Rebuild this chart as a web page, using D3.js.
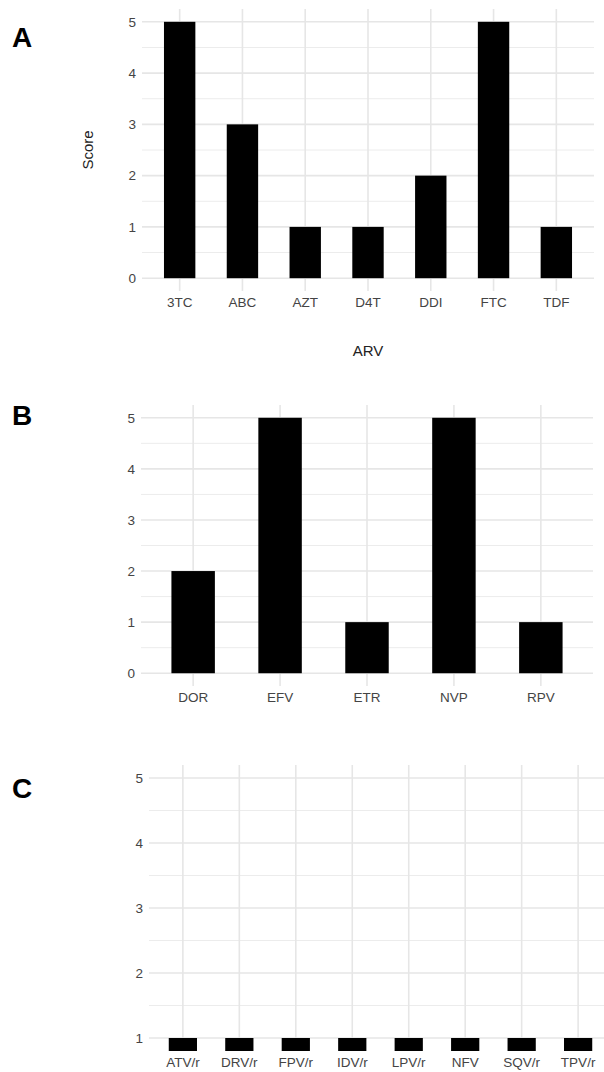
<!DOCTYPE html>
<html>
<head>
<meta charset="utf-8">
<script src="https://cdn.jsdelivr.net/npm/d3@7"></script>
<style>
  body { margin: 0; background: #fff; }
  svg { display: block; font-family: "Liberation Sans", Arial, sans-serif; }
</style>
</head>
<body>
<div id="chart"></div>
<script>
// scores per drug class
const nrtiDrugs = ["3TC", "ABC", "AZT", "D4T", "DDI", "FTC", "TDF"];
const nrtiScores = [5, 3, 1, 1, 2, 5, 1];

const nnrtiDrugs = ["DOR", "EFV", "ETR", "NVP", "RPV"];
const nnrtiScores = [2, 5, 1, 5, 1];

const piDrugs = ["ATV/r", "DRV/r", "FPV/r", "IDV/r", "LPV/r", "NFV", "SQV/r", "TPV/r"];
const piScores = [1, 1, 1, 1, 1, 1, 1, 1];

const ticksAB = [0, 1, 2, 3, 4, 5];
const ticksC = [1, 2, 3, 4, 5];

const width = 604, height = 1072;

const svg = d3.select("#chart")
  .append("svg")
  .attr("width", width)
  .attr("height", height);

function panel(opts) {
  let { id, drugs, scores, ticks, domain, left, right, top, bottom, label, labelY } = opts;
  let data = drugs.map((d, i) => ({ drug: d, score: scores[i] }));

  let x = d3.scaleBand()
    .domain(drugs)
    .range([left, right])
    .paddingInner(0.5)
    .paddingOuter(0.35);

  let y = d3.scaleLinear()
    .domain(domain)
    .range([bottom, top]);

  let minor = d3.range(ticks[0] + 0.5, ticks[ticks.length - 1], 1);

  let g = svg.append("g");

  g.append("clipPath").attr("id", "clip" + id)
    .append("rect")
    .attr("x", left).attr("y", top)
    .attr("width", right - left).attr("height", bottom - top);

  // grid
  g.append("g").selectAll("line.minor")
    .data(minor)
    .join("line")
    .attr("x1", left).attr("x2", right)
    .attr("y1", d => y(d)).attr("y2", d => y(d))
    .attr("stroke", "#ececec")
    .attr("stroke-width", 1);

  g.append("g").selectAll("line.major")
    .data(ticks)
    .join("line")
    .attr("x1", left).attr("x2", right)
    .attr("y1", d => y(d)).attr("y2", d => y(d))
    .attr("stroke", "#e6e6e6")
    .attr("stroke-width", 1.6);

  g.append("g").selectAll("line.vert")
    .data(drugs)
    .join("line")
    .attr("x1", d => x(d) + x.bandwidth() / 2)
    .attr("x2", d => x(d) + x.bandwidth() / 2)
    .attr("y1", top).attr("y2", bottom)
    .attr("stroke", "#e6e6e6")
    .attr("stroke-width", 1.6);

  // bars
  g.append("g")
    .attr("clip-path", `url(#clip${id})`)
    .selectAll("rect")
    .data(data)
    .join("rect")
    .attr("x", d => x(d.drug))
    .attr("width", x.bandwidth())
    .attr("y", d => y(d.score))
    .attr("height", d => y(0) - y(d.score))
    .attr("fill", "#000");

  // axes
  let ya = g.append("g")
    .attr("transform", `translate(${left},0)`)
    .call(d3.axisLeft(y).tickValues(ticks).tickSize(0).tickPadding(6).tickFormat(d3.format("d")));
  ya.select(".domain").remove();
  ya.selectAll("text").attr("font-size", 13.5).attr("fill", "#444");

  let xa = g.append("g")
    .attr("transform", `translate(0,${bottom})`)
    .call(d3.axisBottom(x).tickSize(0).tickPadding(6));
  xa.select(".domain").remove();
  xa.selectAll("text").attr("font-size", 13.5).attr("fill", "#444");

  svg.append("text")
    .attr("x", 12)
    .attr("y", labelY)
    .attr("font-size", 28)
    .attr("font-weight", "bold")
    .text(label);

  return { x, y };
}

panel({ id: "A", drugs: nrtiDrugs, scores: nrtiScores, ticks: ticksAB, domain: [-0.25, 5.25],
  left: 142, right: 594, top: 9, bottom: 291, label: "A", labelY: 47 });

panel({ id: "B", drugs: nnrtiDrugs, scores: nnrtiScores, ticks: ticksAB, domain: [-0.25, 5.25],
  left: 141, right: 593, top: 405, bottom: 686, label: "B", labelY: 425 });

panel({ id: "C", drugs: piDrugs, scores: piScores, ticks: ticksC, domain: [0.8, 5.2],
  left: 149, right: 612, top: 765, bottom: 1051, label: "C", labelY: 798 });

// axis titles for panel A
svg.append("text")
  .attr("transform", "translate(93,150) rotate(-90)")
  .attr("text-anchor", "middle")
  .attr("font-size", 15)
  .attr("fill", "#222")
  .text("Score");

svg.append("text")
  .attr("x", 368)
  .attr("y", 356)
  .attr("text-anchor", "middle")
  .attr("font-size", 15)
  .attr("fill", "#222")
  .text("ARV");
</script>
</body>
</html>
